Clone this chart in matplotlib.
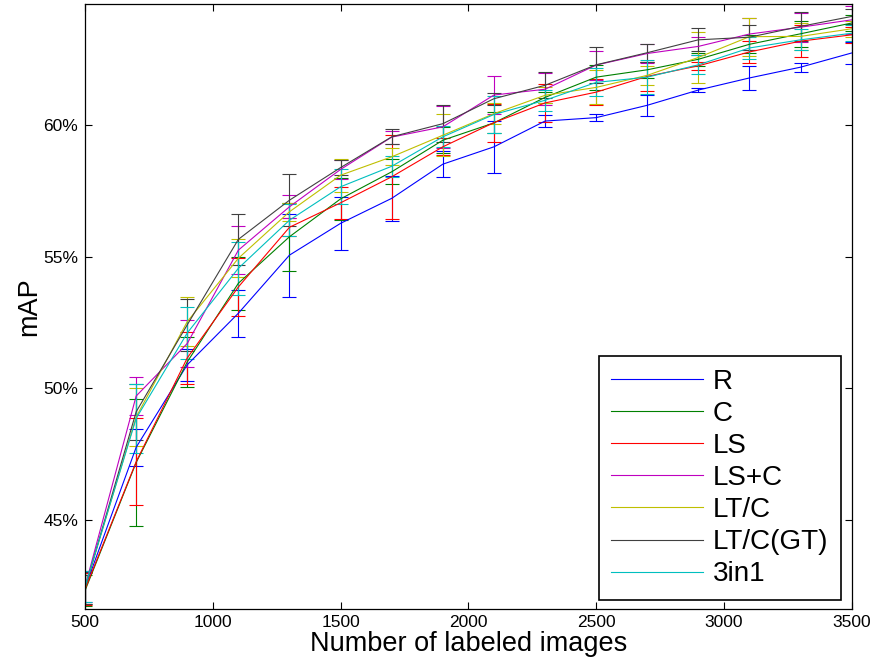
import matplotlib
matplotlib.use("Agg")
import matplotlib.pyplot as plt
from matplotlib.ticker import FuncFormatter

plt.rcParams["font.family"] = ["Liberation Sans", "DejaVu Sans"]

# number of labeled images
n_labeled = [500, 700, 900, 1100, 1300, 1500, 1700, 1900, 2100, 2300, 2500, 2700, 2900, 3100, 3300, 3500]

# mean mAP (%) per method
map_R = [42.4, 47.75, 50.89, 52.85, 55.06, 56.27, 57.22, 58.52, 59.18, 60.16, 60.29, 60.76, 61.34, 61.80, 62.21, 62.75]
map_C = [42.3, 47.17, 51.0, 53.99, 55.76, 57.2, 58.23, 59.43, 60.09, 61.06, 61.83, 62.11, 62.51, 63.08, 63.48, 63.89]
map_LS = [42.35, 47.2, 51.15, 53.85, 56.12, 57.05, 58.04, 59.18, 60.1, 60.85, 61.26, 61.86, 62.26, 62.79, 63.20, 63.44]
map_LSC = [42.45, 49.7, 51.7, 55.25, 56.9, 58.32, 59.55, 59.94, 61.15, 61.37, 62.29, 62.73, 63.0, 63.47, 63.73, 64.01]
map_LTC = [42.4, 48.9, 52.53, 54.94, 56.71, 58.10, 58.80, 59.62, 60.44, 61.14, 61.44, 61.90, 62.58, 63.37, 63.38, 63.67]
map_GT = [42.4, 49.1, 52.41, 55.66, 57.15, 58.39, 59.56, 60.06, 61.01, 61.52, 62.30, 62.76, 63.25, 63.35, 63.76, 64.14]
map_3in1 = [42.45, 48.85, 52.1, 54.56, 56.39, 57.66, 58.44, 59.56, 60.41, 60.95, 61.63, 61.83, 62.30, 62.94, 63.25, 63.50]

# standard deviation over runs
std_R = [0.6, 0.7, 0.6, 0.9, 1.58, 1.0, 0.85, 0.5, 1.0, 0.23, 0.12, 0.4, 0.07, 0.45, 0.17, 0.41]
std_C = [0.6, 2.4, 0.95, 1.0, 1.3, 0.8, 0.47, 0.5, 0.4, 0.2, 0.48, 0.3, 0.25, 0.35, 0.5, 0.3]
std_LS = [0.6, 1.65, 1.0, 1.1, 0.35, 0.6, 1.6, 0.32, 0.72, 0.73, 0.5, 0.55, 0.15, 0.42, 0.6, 0.3]
std_LSC = [0.6, 0.72, 0.9, 0.9, 0.43, 0.35, 0.25, 0.8, 0.74, 0.6, 0.55, 0.35, 0.34, 0.6, 0.55, 0.52]
std_LTC = [0.6, 1.1, 0.92, 0.72, 0.34, 0.62, 0.32, 0.8, 0.4, 0.3, 0.65, 0.37, 0.96, 0.72, 0.5, 0.3]
std_GT = [0.6, 1.07, 1.0, 0.96, 1.0, 0.3, 0.28, 0.7, 0.23, 0.5, 0.69, 0.34, 0.44, 0.48, 0.55, 0.3]
std_3in1 = [0.6, 1.3, 1.0, 1.0, 0.6, 0.67, 0.4, 0.4, 0.7, 0.4, 0.53, 0.65, 0.36, 0.43, 0.4, 0.3]

labels = ["R", "C", "LS", "LS+C", "LT/C", "LT/C(GT)", "3in1"]
means = [map_R, map_C, map_LS, map_LSC, map_LTC, map_GT, map_3in1]
stds = [std_R, std_C, std_LS, std_LSC, std_LTC, std_GT, std_3in1]
# old MATLAB colour order
colors = ["#0000ff", "#008000", "#ff0000", "#bf00bf", "#bfbf00", "#404040", "#00bfbf"]

fig = plt.figure(figsize=(8.74, 6.66), dpi=100)
ax = fig.add_axes([0.0973, 0.0856, 0.8772, 0.9079])

handles = []
for m, s, c, lab in zip(means, stds, colors, labels):
    eb = ax.errorbar(n_labeled, m, yerr=s, color=c, lw=0.8, elinewidth=0.8,
                     capsize=5, capthick=0.8, label=lab)
    handles.append(eb[0])

ax.set_xlim(500, 3500)
ax.set_ylim(41.6, 64.6)
ax.set_xticks([500, 1000, 1500, 2000, 2500, 3000, 3500])
ax.set_yticks([45, 50, 55, 60])
ax.yaxis.set_major_formatter(FuncFormatter(lambda v, p: "%d%%" % v))
ax.tick_params(direction="in", length=5, width=0.8, top=True, right=True,
               labelsize=12.5, pad=4)
ax.tick_params(axis="y", pad=5)
for sp in ax.spines.values():
    sp.set_linewidth(0.9)

ax.set_xlabel("Number of labeled images", fontsize=19.5, labelpad=1)
ax.set_ylabel("mAP", fontsize=19.5, labelpad=1)

leg = ax.legend(handles, labels, loc="lower right", bbox_to_anchor=(0.986, 0.015),
                borderaxespad=0, fontsize=20, handlelength=3.3, handletextpad=0.36,
                labelspacing=0.22, fancybox=False, framealpha=1, edgecolor="black",
                borderpad=0.45)
leg.get_frame().set_linewidth(1.2)

fig.savefig("out.png", dpi=100)
